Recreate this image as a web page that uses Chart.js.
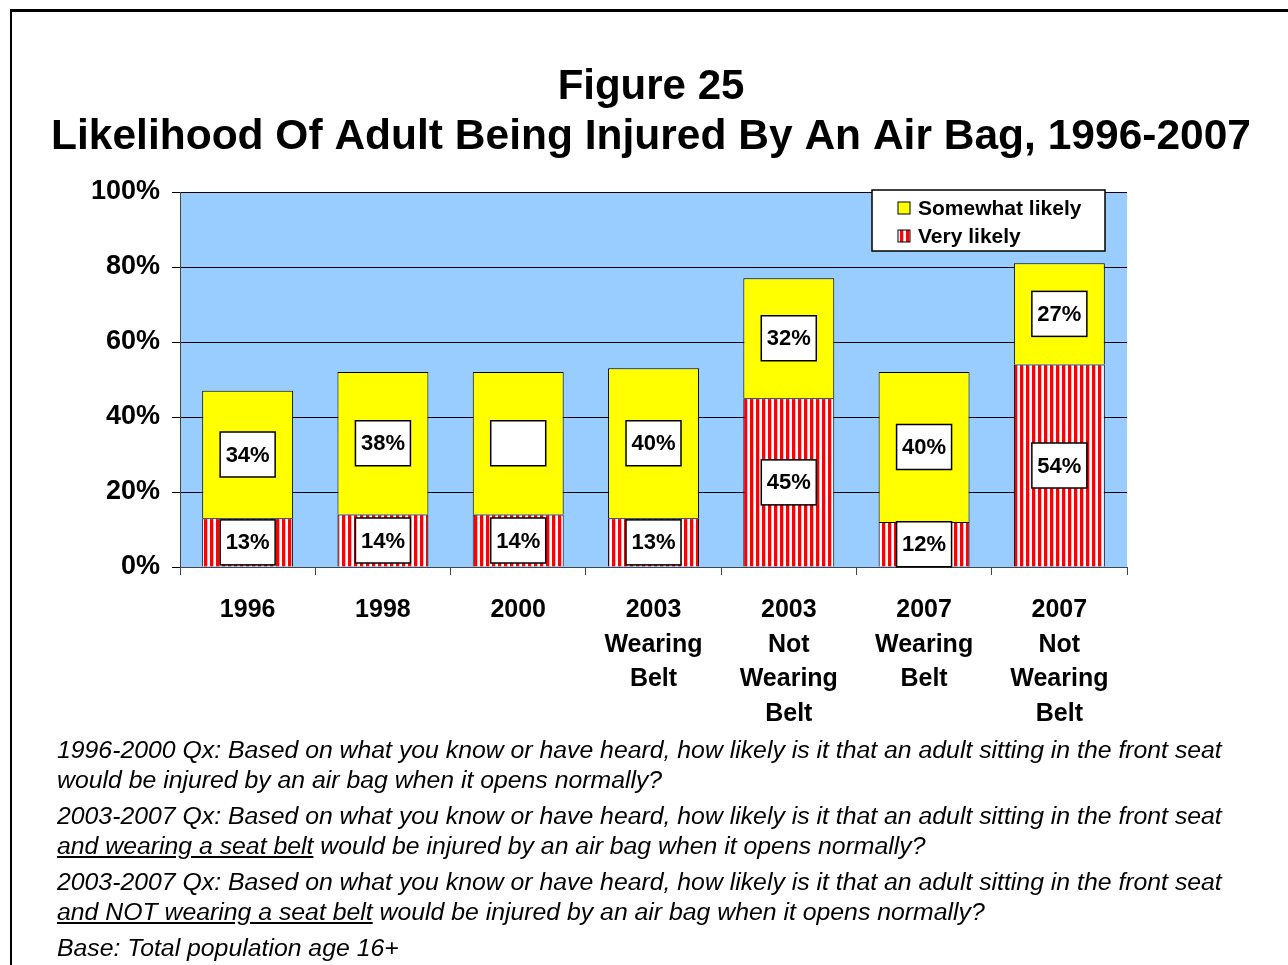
<!DOCTYPE html>
<html>
<head>
<meta charset="utf-8">
<script src="https://cdn.jsdelivr.net/npm/chart.js@4"></script>
<style>
body { margin: 0; background: #fff; }
#wrap { position: relative; width: 1288px; height: 965px; overflow: hidden; }
#frame { position: absolute; left: 10px; top: 9px; width: 1400px; height: 1100px; border-top: 3px solid #000; border-left: 2px solid #000; }
#box { position: absolute; left: 0; top: 0; width: 1288px; height: 965px; }
#notes { position: absolute; left: 57px; top: 735px; font: italic 24.8px Arial, "Liberation Sans", sans-serif; color: #000; white-space: nowrap; }
#notes p { margin: 0 0 6px 0; line-height: 30px; }
</style>
</head>
<body>
<div id="wrap">
  <div id="frame"></div>
  <div id="box"><canvas id="myChart"></canvas></div>
  <div id="notes">
    <p>1996-2000 Qx: Based on what you know or have heard, how likely is it that an adult sitting in the front seat<br>would be injured by an air bag when it opens normally?</p>
    <p>2003-2007 Qx: Based on what you know or have heard, how likely is it that an adult sitting in the front seat<br><u>and wearing a seat belt</u> would be injured by an air bag when it opens normally?</p>
    <p>2003-2007 Qx: Based on what you know or have heard, how likely is it that an adult sitting in the front seat<br><u>and NOT wearing a seat belt</u> would be injured by an air bag when it opens normally?</p>
    <p>Base: Total population age 16+</p>
  </div>
</div>
<script>
var titleLines = ['Figure 25', 'Likelihood Of Adult Being Injured By An Air Bag, 1996-2007'];
var categories = [['1996'], ['1998'], ['2000'], ['2003', 'Wearing', 'Belt'], ['2003', 'Not', 'Wearing', 'Belt'], ['2007', 'Wearing', 'Belt'], ['2007', 'Not', 'Wearing', 'Belt']];
var veryLikely = [13, 14, 14, 13, 45, 12, 54];
var somewhatLikely = [34, 38, 38, 40, 32, 40, 27];
var veryLabels = ['13%', '14%', '14%', '13%', '45%', '12%', '54%'];
var somewhatLabels = ['34%', '38%', '', '40%', '32%', '40%', '27%'];
var yTicks = [0, 20, 40, 60, 80, 100];

var FONT = 'Arial, "Liberation Sans", sans-serif';

function stripes() {
    var c = document.createElement('canvas');
    c.width = 6; c.height = 6;
    var g = c.getContext('2d');
    g.fillStyle = '#ffffff';
    g.fillRect(0, 0, 6, 6);
    g.fillStyle = '#ff0000';
    g.fillRect(0, 0, 3, 6);
    g.fillStyle = '#ffb0b0';
    g.fillRect(3, 0, 1, 6);
    return g.createPattern(c, 'repeat');
}
var redStripes = stripes();

// blue plot background
var plotBg = {
    id: 'plotBg',
    beforeDraw: function (chart) {
        var a = chart.chartArea, ctx = chart.ctx;
        ctx.save();
        ctx.fillStyle = '#99ccff';
        ctx.fillRect(a.left, a.top, a.right - a.left, a.bottom - a.top);
        ctx.restore();
    }
};

// two-line title, centred on the page; second line stretched to 1200px wide
var pageTitle = {
    id: 'pageTitle',
    afterDraw: function (chart) {
        var ctx = chart.ctx;
        ctx.save();
        ctx.fillStyle = '#000';
        ctx.textAlign = 'center';
        ctx.textBaseline = 'middle';
        ctx.font = 'bold 42px ' + FONT;
        ctx.fillText(titleLines[0], 651, 87);
        ctx.font = 'bold 43px ' + FONT;
        var tw = ctx.measureText(titleLines[1]).width;
        ctx.translate(651, 137);
        ctx.scale(1200 / tw, 1);
        ctx.fillText(titleLines[1], 0, 0);
        ctx.restore();
    }
};

// white value boxes in the middle of each segment
var valueBoxes = {
    id: 'valueBoxes',
    afterDatasetsDraw: function (chart) {
        var ctx = chart.ctx;
        var sets = [veryLabels, somewhatLabels];
        chart.data.datasets.forEach(function (ds, di) {
            chart.getDatasetMeta(di).data.forEach(function (bar, i) {
                var cy = (bar.y + bar.base) / 2;
                var w = 55, h = 45;
                ctx.save();
                ctx.fillStyle = '#fff';
                ctx.strokeStyle = '#000';
                ctx.lineWidth = 1.5;
                ctx.fillRect(bar.x - w / 2, cy - h / 2, w, h);
                ctx.strokeRect(bar.x - w / 2, cy - h / 2, w, h);
                ctx.fillStyle = '#000';
                ctx.font = 'bold 22px ' + FONT;
                ctx.textAlign = 'center';
                ctx.textBaseline = 'middle';
                ctx.fillText(sets[di][i], bar.x, cy + 1);
                ctx.restore();
            });
        });
    }
};

// legend box, top right of plot
var legendBox = {
    id: 'legendBox',
    afterDraw: function (chart) {
        var ctx = chart.ctx, a = chart.chartArea;
        var x = a.right - 255, y = a.top - 2, w = 233, h = 61;
        ctx.save();
        ctx.fillStyle = '#fff';
        ctx.strokeStyle = '#000';
        ctx.lineWidth = 1.5;
        ctx.fillRect(x, y, w, h);
        ctx.strokeRect(x, y, w, h);
        var items = chart.data.datasets.slice().reverse();
        items.forEach(function (ds, k) {
            var ry = y + 18 + k * 28;
            ctx.fillStyle = ds.backgroundColor;
            ctx.fillRect(x + 26, ry - 6, 12, 12);
            ctx.strokeStyle = '#000';
            ctx.lineWidth = 1;
            ctx.strokeRect(x + 26, ry - 6, 12, 12);
            ctx.fillStyle = '#000';
            ctx.font = 'bold 21px ' + FONT;
            ctx.textBaseline = 'middle';
            ctx.fillText(ds.label, x + 46, ry + 1);
        });
        ctx.restore();
    }
};

var ctx = document.getElementById('myChart').getContext('2d');
var myChart = new Chart(ctx, {
    type: 'bar',
    data: {
        labels: categories,
        datasets: [
            {
                label: 'Very likely',
                data: veryLikely,
                backgroundColor: redStripes,
                borderColor: '#000',
                borderWidth: 1,
                barPercentage: 0.672,
                categoryPercentage: 1
            },
            {
                label: 'Somewhat likely',
                data: somewhatLikely,
                backgroundColor: '#ffff00',
                borderColor: '#000',
                borderWidth: 1,
                barPercentage: 0.672,
                categoryPercentage: 1
            }
        ]
    },
    options: {
        responsive: true,
        maintainAspectRatio: false,
        animation: false,
        layout: { padding: { left: 0, right: 161, top: 192, bottom: 0 } },
        plugins: {
            legend: { display: false },
            tooltip: { enabled: false },
            title: { display: false }
        },
        scales: {
            x: {
                stacked: true,
                grid: { drawOnChartArea: false, offset: true, tickLength: 8, color: '#444' },
                border: { color: '#444', width: 1 },
                ticks: {
                    color: '#000',
                    padding: 18,
                    maxRotation: 0,
                    autoSkip: false,
                    font: { family: FONT, size: 25, weight: 'bold', lineHeight: 1.38 }
                },
                afterFit: function (scale) { scale.height = 398; }
            },
            y: {
                stacked: true,
                min: 0,
                max: 100,
                afterBuildTicks: function (scale) {
                    scale.ticks = yTicks.map(function (v) { return { value: v }; });
                },
                grid: { color: '#000', tickLength: 8, lineWidth: 1 },
                border: { color: '#444', width: 1 },
                ticks: {
                    color: '#000',
                    padding: 12,
                    font: { family: FONT, size: 27, weight: 'bold' },
                    callback: function (v) { return v + '%'; }
                },
                afterFit: function (scale) { scale.width = 180; }
            }
        }
    },
    plugins: [plotBg, valueBoxes, legendBox, pageTitle]
});
</script>
</body>
</html>
